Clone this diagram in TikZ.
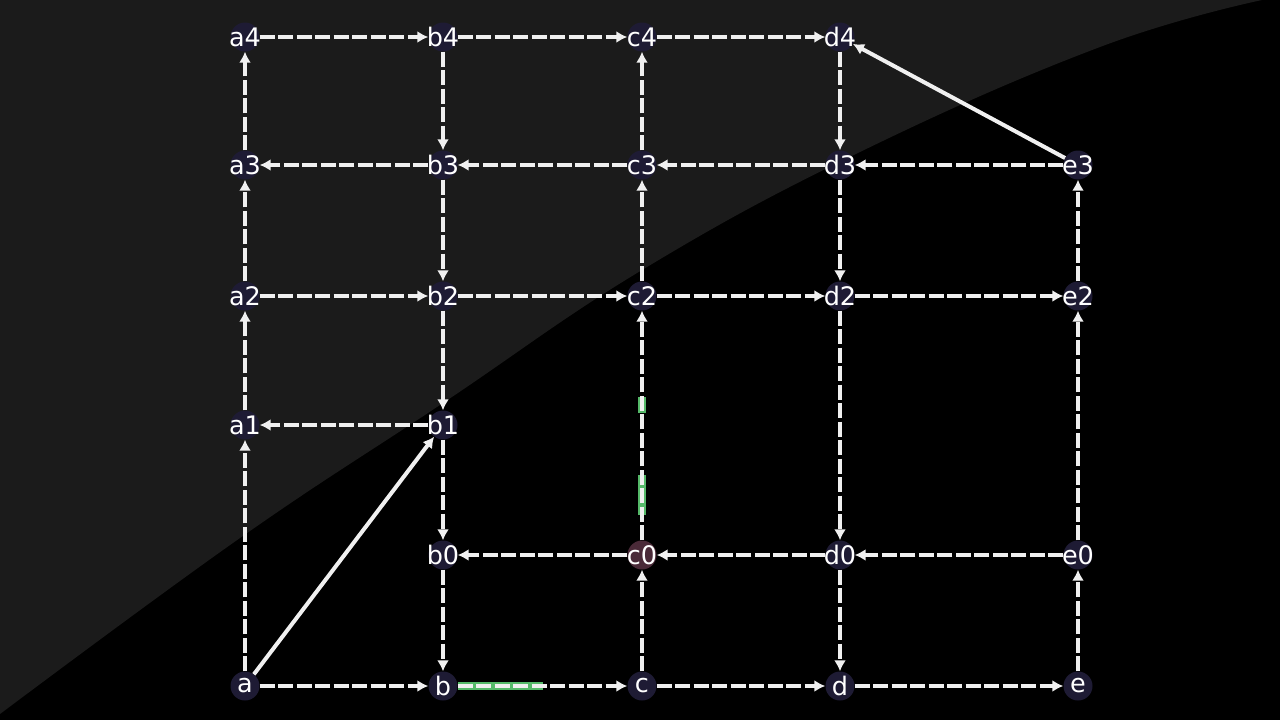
\documentclass[tikz,border=0pt]{standalone}
\usepackage{fontspec}
\setmainfont{DejaVu Sans}
\usetikzlibrary{arrows.meta}
\definecolor{bgdark}{RGB}{27,27,27}
\definecolor{nodefill}{RGB}{30,27,52}
\definecolor{nodered}{RGB}{74,42,56}
\definecolor{edgecol}{RGB}{240,240,240}
\definecolor{hlgreen}{RGB}{85,185,105}
\tikzset{
  vtx/.style={circle, fill=nodefill, minimum size=29pt, inner sep=0pt, text=white,
    font=\fontsize{25.5}{25.5}\selectfont},
  dedge/.style={draw=edgecol, line width=4pt, dash pattern=on 15pt off 3.5pt,
    -{Latex[length=11pt,width=12pt]}},
  sedge/.style={draw=edgecol, line width=4pt, -{Latex[length=11pt,width=12pt]}},
  hl/.style={draw=hlgreen, line width=8pt}
}
\begin{document}
\begin{tikzpicture}[x=1pt,y=-1pt]
\useasboundingbox (0,0) rectangle (1280,720);
\fill[black] (0,0) rectangle (1280,720);
\fill[bgdark] plot[smooth, tension=0.7] coordinates {(0,714) (240,538) (443,403) (642,270) (860,152) (1100,47) (1262,0)}
  -- (0,0) -- cycle;
% green highlights
\draw[hl] (458,686) -- (543,686);
\draw[hl] (642,397) -- (642,413);
\draw[hl] (642,475) -- (642,515);
% nodes
\node[vtx] (a4) at (245,37) {\makebox[0pt]{a4}};
\node[vtx] (b4) at (443,37) {\makebox[0pt]{b4}};
\node[vtx] (c4) at (642,37) {\makebox[0pt]{c4}};
\node[vtx] (d4) at (840,37) {\makebox[0pt]{d4}};
\node[vtx] (a3) at (245,165) {\makebox[0pt]{a3}};
\node[vtx] (b3) at (443,165) {\makebox[0pt]{b3}};
\node[vtx] (c3) at (642,165) {\makebox[0pt]{c3}};
\node[vtx] (d3) at (840,165) {\makebox[0pt]{d3}};
\node[vtx] (e3) at (1078,165) {\makebox[0pt]{e3}};
\node[vtx] (a2) at (245,296) {\makebox[0pt]{a2}};
\node[vtx] (b2) at (443,296) {\makebox[0pt]{b2}};
\node[vtx] (c2) at (642,296) {\makebox[0pt]{c2}};
\node[vtx] (d2) at (840,296) {\makebox[0pt]{d2}};
\node[vtx] (e2) at (1078,296) {\makebox[0pt]{e2}};
\node[vtx] (a1) at (245,425) {\makebox[0pt]{a1}};
\node[vtx] (b1) at (443,425) {\makebox[0pt]{b1}};
\node[vtx] (b0) at (443,555) {\makebox[0pt]{b0}};
\node[vtx,fill=nodered] (c0) at (642,555) {\makebox[0pt]{c0}};
\node[vtx] (d0) at (840,555) {\makebox[0pt]{d0}};
\node[vtx] (e0) at (1078,555) {\makebox[0pt]{e0}};
\node[vtx] (a) at (245,686) {\makebox[0pt]{a}};
\node[vtx] (b) at (443,686) {\makebox[0pt]{b}};
\node[vtx] (c) at (642,686) {\makebox[0pt]{c}};
\node[vtx] (d) at (840,686) {\makebox[0pt]{d}};
\node[vtx] (e) at (1078,686) {\makebox[0pt]{e}};
% row 4
\path[dedge] (a4) -- (b4);
\path[dedge] (b4) -- (c4);
\path[dedge] (c4) -- (d4);
% row 3
\path[dedge] (e3) -- (d3);
\path[dedge] (d3) -- (c3);
\path[dedge] (c3) -- (b3);
\path[dedge] (b3) -- (a3);
% row 2
\path[dedge] (a2) -- (b2);
\path[dedge] (b2) -- (c2);
\path[dedge] (c2) -- (d2);
\path[dedge] (d2) -- (e2);
% row 1
\path[dedge] (b1) -- (a1);
% row 0
\path[dedge] (e0) -- (d0);
\path[dedge] (d0) -- (c0);
\path[dedge] (c0) -- (b0);
% bottom row
\path[dedge] (a) -- (b);
\path[dedge] (b) -- (c);
\path[dedge] (c) -- (d);
\path[dedge] (d) -- (e);
% column a
\path[dedge] (a) -- (a1);
\path[dedge] (a1) -- (a2);
\path[dedge] (a2) -- (a3);
\path[dedge] (a3) -- (a4);
% column b
\path[dedge] (b4) -- (b3);
\path[dedge] (b3) -- (b2);
\path[dedge] (b2) -- (b1);
\path[dedge] (b1) -- (b0);
\path[dedge] (b0) -- (b);
% column c
\path[dedge] (c) -- (c0);
\path[dedge] (c0) -- (c2);
\path[dedge] (c2) -- (c3);
\path[dedge] (c3) -- (c4);
% column d
\path[dedge] (d4) -- (d3);
\path[dedge] (d3) -- (d2);
\path[dedge] (d2) -- (d0);
\path[dedge] (d0) -- (d);
% column e
\path[dedge] (e) -- (e0);
\path[dedge] (e0) -- (e2);
\path[dedge] (e2) -- (e3);
% diagonals
\path[sedge] (a) -- (b1);
\path[sedge] (e3) -- (d4);
\end{tikzpicture}
\end{document}
